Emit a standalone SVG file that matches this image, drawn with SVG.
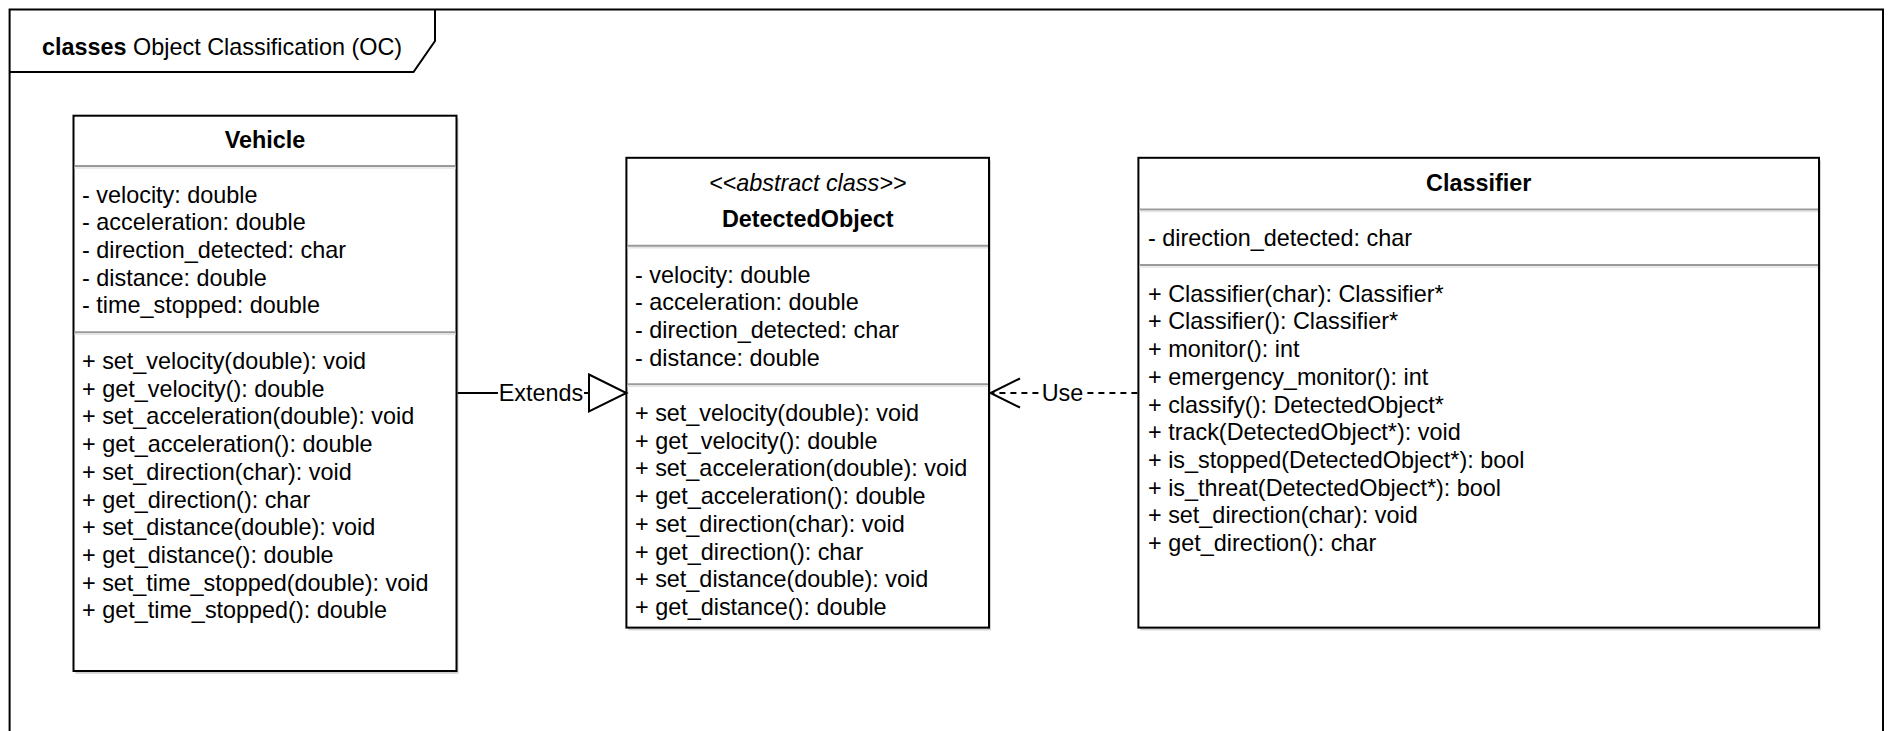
<svg xmlns="http://www.w3.org/2000/svg" width="1889" height="731" viewBox="0 0 1889 731">
<style>
text{font-family:"Liberation Sans",Arial,Helvetica,sans-serif;font-size:23.4px;fill:#000}
.b{font-weight:bold}
.i{font-style:italic}
.c{text-anchor:middle}
.box{fill:#fff;stroke:#000;stroke-width:2}
.shadow{fill:#d2d2d2}
.sep{stroke:#9a9a9a;stroke-width:2}
.sep2{stroke:#e4e4e4;stroke-width:1.5}
.edge{fill:none;stroke:#000;stroke-width:2}
.dash{stroke-dasharray:6 5}
.lbl{fill:#fff}
</style>
<rect width="1889" height="731" fill="#fff"/>
<g id="frame">
<path d="M9.6,740 V9.6 H1883 V740" fill="none" stroke="#000" stroke-width="2"/>
<path d="M9.6,72 H413.5 L435,41 V9.6" fill="none" stroke="#000" stroke-width="2"/>
<text x="42" y="55"><tspan class="b">classes</tspan> Object Classification (OC)</text>
</g>
<g id="Vehicle">
<rect class="shadow" x="75.5" y="118.5" width="383" height="555.3"/>
<rect class="box" x="73.5" y="115.7" width="383" height="555.3"/>
<text class="b c" x="265" y="148">Vehicle</text>
<line class="sep" x1="74.5" y1="166" x2="455.6" y2="166"/>
<line class="sep2" x1="74.5" y1="168" x2="455.6" y2="168"/>
<text x="82" y="202.5"><tspan x="82">- velocity: double</tspan><tspan x="82" dy="27.7">- acceleration: double</tspan><tspan x="82" dy="27.7">- direction_detected: char</tspan><tspan x="82" dy="27.7">- distance: double</tspan><tspan x="82" dy="27.7">- time_stopped: double</tspan></text>
<line class="sep" x1="74.5" y1="332.2" x2="455.6" y2="332.2"/>
<line class="sep2" x1="74.5" y1="334.2" x2="455.6" y2="334.2"/>
<text x="82" y="369"><tspan x="82">+ set_velocity(double): void</tspan><tspan x="82" dy="27.7">+ get_velocity(): double</tspan><tspan x="82" dy="27.7">+ set_acceleration(double): void</tspan><tspan x="82" dy="27.7">+ get_acceleration(): double</tspan><tspan x="82" dy="27.7">+ set_direction(char): void</tspan><tspan x="82" dy="27.7">+ get_direction(): char</tspan><tspan x="82" dy="27.7">+ set_distance(double): void</tspan><tspan x="82" dy="27.7">+ get_distance(): double</tspan><tspan x="82" dy="27.7">+ set_time_stopped(double): void</tspan><tspan x="82" dy="27.7">+ get_time_stopped(): double</tspan></text>
</g>
<g id="DetectedObject">
<rect class="shadow" x="628.4" y="160.6" width="362.6" height="469.8"/>
<rect class="box" x="626.4" y="157.8" width="362.6" height="469.8"/>
<text class="i c" x="807.7" y="191">&lt;&lt;abstract class&gt;&gt;</text>
<text class="b c" x="807.7" y="227">DetectedObject</text>
<line class="sep" x1="627.4" y1="245.8" x2="988" y2="245.8"/>
<line class="sep2" x1="627.4" y1="247.8" x2="988" y2="247.8"/>
<text x="635" y="282.5"><tspan x="635">- velocity: double</tspan><tspan x="635" dy="27.7">- acceleration: double</tspan><tspan x="635" dy="27.7">- direction_detected: char</tspan><tspan x="635" dy="27.7">- distance: double</tspan></text>
<line class="sep" x1="627.4" y1="384.3" x2="988" y2="384.3"/>
<line class="sep2" x1="627.4" y1="386.3" x2="988" y2="386.3"/>
<text x="635" y="421"><tspan x="635">+ set_velocity(double): void</tspan><tspan x="635" dy="27.7">+ get_velocity(): double</tspan><tspan x="635" dy="27.7">+ set_acceleration(double): void</tspan><tspan x="635" dy="27.7">+ get_acceleration(): double</tspan><tspan x="635" dy="27.7">+ set_direction(char): void</tspan><tspan x="635" dy="27.7">+ get_direction(): char</tspan><tspan x="635" dy="27.7">+ set_distance(double): void</tspan><tspan x="635" dy="27.7">+ get_distance(): double</tspan></text>
</g>
<g id="Classifier">
<rect class="shadow" x="1140.4" y="160.6" width="680.6" height="469.8"/>
<rect class="box" x="1138.4" y="157.8" width="680.6" height="469.8"/>
<text class="b c" x="1478.7" y="191">Classifier</text>
<line class="sep" x1="1139.4" y1="209.6" x2="1818" y2="209.6"/>
<line class="sep2" x1="1139.4" y1="211.6" x2="1818" y2="211.6"/>
<text x="1148" y="246.3">- direction_detected: char</text>
<line class="sep" x1="1139.4" y1="265" x2="1818" y2="265"/>
<line class="sep2" x1="1139.4" y1="267" x2="1818" y2="267"/>
<text x="1148" y="301.7"><tspan x="1148">+ Classifier(char): Classifier*</tspan><tspan x="1148" dy="27.7">+ Classifier(): Classifier*</tspan><tspan x="1148" dy="27.7">+ monitor(): int</tspan><tspan x="1148" dy="27.7">+ emergency_monitor(): int</tspan><tspan x="1148" dy="27.7">+ classify(): DetectedObject*</tspan><tspan x="1148" dy="27.7">+ track(DetectedObject*): void</tspan><tspan x="1148" dy="27.7">+ is_stopped(DetectedObject*): bool</tspan><tspan x="1148" dy="27.7">+ is_threat(DetectedObject*): bool</tspan><tspan x="1148" dy="27.7">+ set_direction(char): void</tspan><tspan x="1148" dy="27.7">+ get_direction(): char</tspan></text>
</g>
<g id="connectors">
<g id="edge-extends">
<line class="edge" x1="457.6" y1="393" x2="589" y2="393"/>
<polygon points="589,374.5 626.4,393 589,411.5" fill="#fff" stroke="#000" stroke-width="2"/>
<rect class="lbl" x="498" y="380" width="86" height="26"/>
<text class="c" x="541" y="401">Extends</text>
</g>
<g id="edge-use">
<line class="edge dash" x1="1137.4" y1="393" x2="991" y2="393"/>
<polyline class="edge" points="1020,378.5 990.5,393 1020,407.5"/>
<rect class="lbl" x="1042" y="380" width="41" height="26"/>
<text class="c" x="1062.5" y="401">Use</text>
</g>
</g>
</svg>
